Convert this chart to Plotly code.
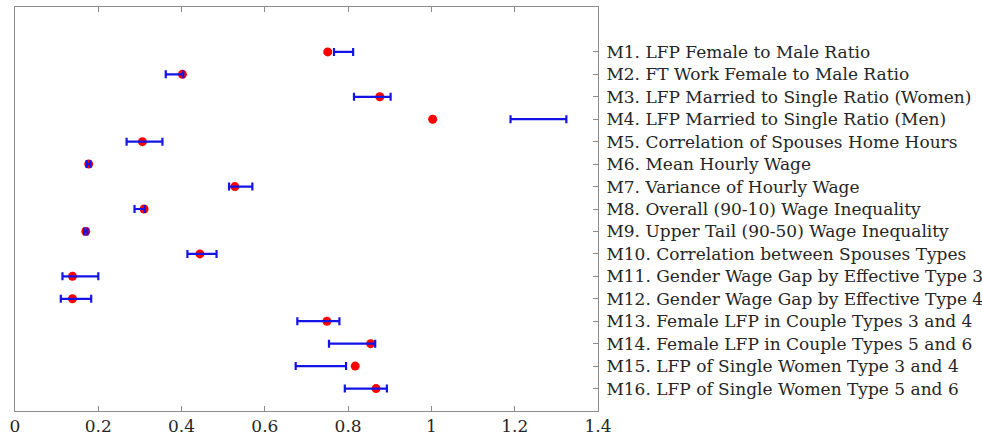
import plotly.graph_objects as go

labels = [
    "M1. LFP Female to Male Ratio",
    "M2. FT Work Female to Male Ratio",
    "M3. LFP Married to Single Ratio (Women)",
    "M4. LFP Married to Single Ratio (Men)",
    "M5. Correlation of Spouses Home Hours",
    "M6. Mean Hourly Wage",
    "M7. Variance of Hourly Wage",
    "M8. Overall (90-10) Wage Inequality",
    "M9. Upper Tail (90-50) Wage Inequality",
    "M10. Correlation between Spouses Types",
    "M11. Gender Wage Gap by Effective Type 3",
    "M12. Gender Wage Gap by Effective Type 4",
    "M13. Female LFP in Couple Types 3 and 4",
    "M14. Female LFP in Couple Types 5 and 6",
    "M15. LFP of Single Women Type 3 and 4",
    "M16. LFP of Single Women Type 5 and 6",
]
positions = list(range(1, 17))

model = [0.751, 0.402, 0.876, 1.003, 0.306, 0.177, 0.528, 0.310,
         0.170, 0.444, 0.138, 0.138, 0.749, 0.854, 0.817, 0.867]
data_lo = [0.766, 0.362, 0.814, 1.190, 0.268, 0.172, 0.514, 0.287,
           0.166, 0.414, 0.114, 0.110, 0.678, 0.754, 0.674, 0.792]
data_hi = [0.812, 0.404, 0.902, 1.324, 0.354, 0.181, 0.570, 0.312,
           0.174, 0.484, 0.200, 0.183, 0.779, 0.865, 0.795, 0.893]

x_ticks = [0, 0.2, 0.4, 0.6, 0.8, 1.0, 1.2, 1.4]
x_ticktext = ["0", "0.2", "0.4", "0.6", "0.8", "1", "1.2", "1.4"]

centers = [(a + b) / 2 for a, b in zip(data_lo, data_hi)]
half = [(b - a) / 2 for a, b in zip(data_lo, data_hi)]

FONT = "'DejaVu Serif', 'Liberation Serif', serif"
TXT = "#262626"
AX = "#8c8c8c"

fig = go.Figure()
fig.add_trace(go.Scatter(
    x=model, y=positions, mode="markers",
    marker=dict(color="#ff0000", size=9, line=dict(width=0)),
    showlegend=False, hoverinfo="x+y",
))
fig.add_trace(go.Scatter(
    x=centers, y=positions, mode="markers",
    marker=dict(color="rgba(0,0,0,0)", size=1),
    error_x=dict(type="data", array=half, symmetric=True,
                 color="#1414e6", thickness=2.2, width=4),
    showlegend=False, hoverinfo="skip",
))

fig.update_layout(
    width=982, height=436,
    margin=dict(l=15, r=384, t=7, b=25),
    paper_bgcolor="white", plot_bgcolor="white",
    font=dict(family=FONT, size=17, color=TXT),
)
fig.update_xaxes(
    range=[0, 1.4], tickvals=x_ticks, ticktext=x_ticktext,
    showgrid=False, zeroline=False, automargin=False,
    showline=True, linecolor=AX, linewidth=1, mirror="ticks",
    ticks="inside", ticklen=5, tickcolor=AX, tickwidth=1,
    tickfont=dict(family=FONT, size=17, color=TXT),
)
fig.update_yaxes(
    range=[17, -1], tickvals=positions, ticktext=labels,
    side="right", showgrid=False, zeroline=False, automargin=False,
    showline=True, linecolor=AX, linewidth=1, mirror=True,
    ticks="inside", ticklen=5, tickcolor=AX, tickwidth=1,
    tickfont=dict(family=FONT, size=17, color=TXT),
    ticklabelstandoff=4,
)

fig.write_html("out.html")
